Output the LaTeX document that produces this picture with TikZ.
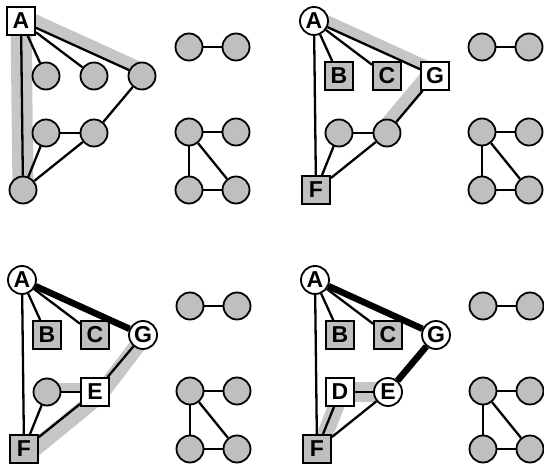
\documentclass[tikz,border=0pt]{standalone}
\usepackage{fontspec}
\setsansfont{Liberation Sans}
\usetikzlibrary{backgrounds}

\begin{document}
\begin{tikzpicture}[
  x=1pt, y=-1pt,
  every node/.style={font=\sffamily\bfseries\fontsize{23}{23}\selectfont, inner sep=0pt},
  vtx/.style={circle, draw, line width=1.8pt, fill=gray!50, minimum size=27pt},
  lab/.style={vtx, fill=white, minimum size=28pt},
  sq/.style={rectangle, draw, line width=1.8pt, fill=gray!50, minimum size=28pt},
  sqw/.style={sq, fill=white},
  edge/.style={line width=2.3pt},
  heavy/.style={line width=6.5pt},
  band/.style={line width=14pt, draw=gray!45},
]
  \useasboundingbox (0,0) rectangle (544,470);

  % first panel
  \node[sqw] (aA) at (21,21)  {A};
  \node[vtx] (aB) at (46,76)  {};
  \node[vtx] (aC) at (94,76)  {};
  \node[vtx] (aG) at (142,76) {};
  \node[vtx] (aD) at (46,133) {};
  \node[vtx] (aE) at (94,133) {};
  \node[vtx] (aF) at (23,190) {};

  % second panel
  \begin{scope}[shift={(293,0)}]
    \node[lab] (bA) at (21,21)  {A};
    \node[sq]  (bB) at (46,76)  {B};
    \node[sq]  (bC) at (94,76)  {C};
    \node[sqw] (bG) at (142,76) {G};
    \node[vtx] (bD) at (46,133) {};
    \node[vtx] (bE) at (94,133) {};
    \node[sq]  (bF) at (23,190) {F};
  \end{scope}

  % third panel
  \begin{scope}[shift={(1,259)}]
    \node[lab] (cA) at (21,21)  {A};
    \node[sq]  (cB) at (46,76)  {B};
    \node[sq]  (cC) at (94,76)  {C};
    \node[lab] (cG) at (142,76) {G};
    \node[vtx] (cD) at (46,133) {};
    \node[sqw] (cE) at (94,133) {E};
    \node[sq]  (cF) at (23,190) {F};
  \end{scope}

  % fourth panel
  \begin{scope}[shift={(294,259)}]
    \node[lab] (dA) at (21,21)  {A};
    \node[sq]  (dB) at (46,76)  {B};
    \node[sq]  (dC) at (94,76)  {C};
    \node[lab] (dG) at (142,76) {G};
    \node[sqw] (dD) at (46,133) {D};
    \node[lab] (dE) at (94,133) {E};
    \node[sq]  (dF) at (23,190) {F};
  \end{scope}

  % the same edges and the loose components in every panel
  \foreach \p/\dx/\dy in {a/0/0, b/293/0, c/1/259, d/294/259} {
    \begin{scope}[shift={(\dx,\dy)}]
      \node[vtx] (\p1) at (189,47)  {};
      \node[vtx] (\p2) at (236,47)  {};
      \node[vtx] (\p3) at (189,132) {};
      \node[vtx] (\p4) at (236,132) {};
      \node[vtx] (\p5) at (189,190) {};
      \node[vtx] (\p6) at (236,190) {};
    \end{scope}
    \draw[edge] (\p1) -- (\p2);
    \draw[edge] (\p3) -- (\p4);
    \draw[edge] (\p3) -- (\p5);
    \draw[edge] (\p3) -- (\p6);
    \draw[edge] (\p5) -- (\p6);
    \draw[edge] (\p A) -- (\p B);
    \draw[edge] (\p A) -- (\p C);
    \draw[edge] (\p A) -- (\p G);
    \draw[edge] (\p A) -- (\p F);
    \draw[edge] (\p G) -- (\p E);
    \draw[edge] (\p D) -- (\p E);
    \draw[edge] (\p D) -- (\p F);
    \draw[edge] (\p E) -- (\p F);
  }

  \draw[heavy] (cA) -- (cG);
  \draw[heavy] (dA) -- (dG);
  \draw[heavy] (dG) -- (dE);

  % shaded search paths
  \begin{scope}[on background layer]
    \draw[band, line width=21pt] (aA.center) -- (aF.center);
    \draw[band, line width=13pt] ([shift={(1,-6)}]aA.center) -- ([shift={(1,-6)}]aG.center);
    \draw[band, line width=12pt] ([shift={(1,-5)}]bA.center) -- ([shift={(1,-5)}]bG.center);
    \draw[band] ([shift={(-5,-3)}]bG.center) -- ([shift={(-5,-3)}]bE.center);
    \draw[band, line width=16pt] ([shift={(1,2)}]cG.center) -- ([shift={(4,4)}]cE.center) -- ([shift={(4,5)}]cF.center);
    \draw[band, line width=10pt] ([shift={(0,-4)}]cD.center) -- ([shift={(0,-4)}]cE.center);
    \draw[band, line width=20pt] (dD.center) -- (dE.center);
    \draw[band, line width=16pt] ([shift={(2,0)}]dD.center) -- ([shift={(2,0)}]dF.center);
  \end{scope}
\end{tikzpicture}
\end{document}
